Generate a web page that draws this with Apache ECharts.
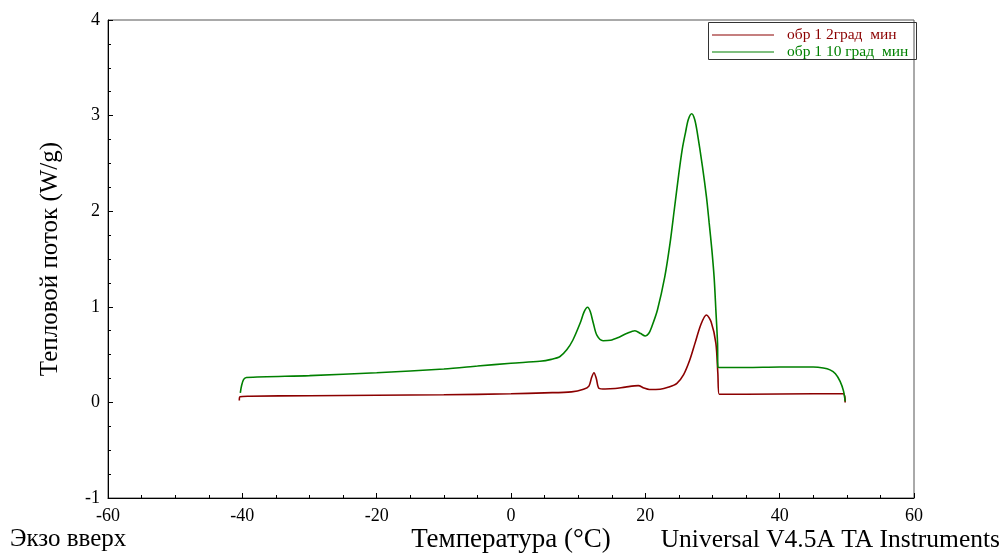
<!DOCTYPE html>
<html><head><meta charset="utf-8">
<script src="https://cdn.jsdelivr.net/npm/echarts@6/dist/echarts.min.js"></script>
<style>html,body{margin:0;padding:0;background:#fff}#c{width:1006px;height:554px}</style>
</head><body><div id="c"></div>
<script>
const seriesNames = ['обр 1 2град  мин', 'обр 1 10 град  мин'];
const xTicks = [-60, -40, -20, 0, 20, 40, 60];
const yTicks = [-1, 0, 1, 2, 3, 4];

const redTemp = [-40.45,-40.35,-39,-30,-20,-10,0,5,9,10.8,11.6,12.0,12.35,12.7,13.1,14,15.5,17,18.95,19.8,20.6,22.2,23.5,24.7,25.7,26.6,27.4,28.3,29.1,29.8,30.5,30.8,31.0,35,45,49.5,49.7,49.75];
const redFlow = [0.02,0.06,0.065,0.07,0.075,0.08,0.09,0.10,0.11,0.137,0.17,0.26,0.31,0.25,0.147,0.14,0.145,0.16,0.175,0.15,0.135,0.137,0.16,0.20,0.29,0.44,0.62,0.82,0.914,0.84,0.62,0.30,0.085,0.085,0.09,0.09,0.06,0.0];

const greenTemp = [-40.3,-40.1,-39.8,-39.4,-30,-20,-10,-5,0,4.3,6,7.3,8.3,9.2,10.3,10.9,11.4,11.8,12.25,12.8,13.7,14.8,16,17.2,18.45,19.3,20.0,20.5,20.95,21.8,22.9,23.67,24.3,25.0,25.5,26.0,26.4,26.9,27.35,27.74,28.5,29.1,29.5,29.9,30.25,30.5,30.75,30.8,31.2,35,40,45,46.5,47.5,48.3,49,49.5,49.75];
const greenFlow = [0.10,0.18,0.24,0.26,0.28,0.31,0.35,0.38,0.41,0.43,0.45,0.48,0.55,0.65,0.83,0.95,0.995,0.95,0.83,0.70,0.645,0.65,0.68,0.72,0.75,0.72,0.695,0.72,0.79,0.967,1.315,1.66,2.01,2.40,2.65,2.83,2.96,3.02,2.96,2.82,2.47,2.15,1.88,1.60,1.30,0.967,0.62,0.37,0.365,0.365,0.37,0.37,0.36,0.34,0.30,0.22,0.12,0.01];

const redData = redTemp.map((t, i) => [t, redFlow[i]]);
const greenData = greenTemp.map((t, i) => [t, greenFlow[i]]);

const FF = 'Liberation Serif';
const chart = echarts.init(document.getElementById('c'));
chart.setOption({
  animation: false,
  backgroundColor: '#fff',
  textStyle: { fontFamily: FF },
  grid: { left: 108, right: 92, top: 20, bottom: 56, show: true, borderColor: '#555', borderWidth: 1,
          containLabel: false, outerBoundsMode: 'none' },
  legend: {
    left: 712, top: 27, orient: 'vertical', itemGap: 1, itemWidth: 62, itemHeight: 1,
    icon: 'rect', padding: 0,
    textStyle: { fontFamily: FF, fontSize: 15.5, padding: [0, 0, 0, 8] },
    data: [
      { name: seriesNames[0], textStyle: { color: '#8b0000' } },
      { name: seriesNames[1], textStyle: { color: '#008000' } }
    ]
  },
  graphic: [
    { type: 'rect', left: 706, top: 20, shape: { width: 208, height: 37 }, style: { fill: 'none', stroke: '#333', lineWidth: 1 }, z: 10 },
    { type: 'text', left: 10, top: 527, style: { text: 'Экзо вверх', font: '25px "Liberation Serif"', fill: '#000' } },
    { type: 'text', right: 6, top: 527, style: { text: 'Universal V4.5A TA Instruments', font: '25.5px "Liberation Serif"', fill: '#000' } }
  ],
  xAxis: {
    type: 'value', min: -60, max: 60, interval: 20,
    name: 'Температура (°C)', nameLocation: 'middle', nameGap: 28, nameMoveOverlap: false,
    nameTextStyle: { fontFamily: FF, fontSize: 27, color: '#000' },
    axisLine: { onZero: false, lineStyle: { color: '#000', width: 1 } },
    axisTick: { inside: true, length: 5, lineStyle: { color: '#000' } },
    minorTick: { show: true, splitNumber: 4, length: 3, lineStyle: { color: '#000' } },
    splitLine: { show: false },
    axisLabel: { color: '#000', fontFamily: FF, fontSize: 18, margin: 9,
      formatter: v => xTicks.includes(v) ? String(v) : '' }
  },
  yAxis: {
    type: 'value', min: -1, max: 4, interval: 1,
    name: 'Тепловой поток (W/g)', nameLocation: 'middle', nameGap: 45, nameRotate: 90,
    nameTextStyle: { fontFamily: FF, fontSize: 25, color: '#000' },
    axisLine: { show: true, onZero: false, lineStyle: { color: '#000', width: 1 } },
    axisTick: { show: true, inside: true, length: 5, lineStyle: { color: '#000' } },
    minorTick: { show: true, splitNumber: 4, length: 3, lineStyle: { color: '#000' } },
    splitLine: { show: false },
    axisLabel: { color: '#000', fontFamily: FF, fontSize: 18, margin: 8,
      formatter: v => yTicks.includes(v) ? String(v) : '' }
  },
  series: [
    { name: seriesNames[0], type: 'line', data: redData, showSymbol: false, smooth: 0.3,
      lineStyle: { color: '#8b0000', width: 1.6 }, itemStyle: { color: '#8b0000' } },
    { name: seriesNames[1], type: 'line', data: greenData, showSymbol: false, smooth: 0.3,
      lineStyle: { color: '#008000', width: 1.6 }, itemStyle: { color: '#008000' } }
  ]
});
</script></body></html>
